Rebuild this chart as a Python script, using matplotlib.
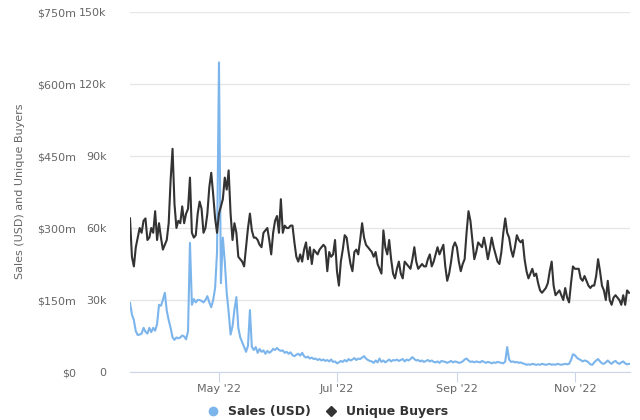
import numpy as np
import pandas as pd
from matplotlib import pyplot as plt
from matplotlib import dates as mdates
from matplotlib.lines import Line2D

# daily values (starts 16 Mar 2022)
start_date = '2022-03-16'

# unique buyers, thousands
buyers_k = [
    64, 48, 44, 52, 56, 60, 58, 63, 64, 55, 56, 60, 58, 67, 55, 62, 56, 51, 53, 55,
    62, 80, 93, 70, 60, 63, 62, 69, 62, 66, 68, 81, 58, 56, 57, 66, 71, 68, 58, 60,
    66, 77, 83, 74, 64, 58, 66, 69, 72, 81, 76, 84, 66, 55, 62, 58, 48, 47, 46, 44,
    52, 60, 66, 59, 56, 56, 55, 53, 52, 58, 59, 60, 55, 49, 58, 63, 65, 58, 72, 58,
    61, 60, 60, 61, 61, 54, 48, 46, 49, 46, 51, 54, 47, 52, 45, 51, 50, 49, 51, 52,
    53, 52, 42, 50, 48, 49, 55, 42, 36, 46, 51, 57, 56, 50, 45, 42, 50, 51, 49, 55,
    62, 56, 53, 52, 51, 50, 48, 50, 45, 43, 41, 59, 52, 49, 55, 47, 41, 39, 43, 46,
    41, 39, 46, 45, 44, 43, 47, 52, 46, 43, 44, 45, 44, 44, 47, 49, 44, 46, 49, 52,
    49, 51, 53, 44, 38, 41, 46, 52, 54, 52, 46, 42, 45, 47, 58, 67, 63, 55, 47, 50,
    54, 53, 52, 56, 52, 47, 51, 56, 52, 49, 46, 45, 50, 58, 64, 58, 56, 51, 48, 52,
    57, 55, 54, 55, 47, 42, 39, 41, 43, 40, 41, 37, 34, 33, 34, 35, 37, 42, 46, 36,
    32, 33, 34, 32, 30, 35, 31, 29, 37, 44, 43, 43, 43, 39, 38, 40, 38, 36, 35, 36,
    36, 40, 47, 42, 36, 34, 30, 38, 30, 28, 31, 32, 31, 30, 28, 32, 28, 34, 33,
]

# sales in USD, millions
sales_m = [
    144, 120, 108, 85, 77, 78, 80, 92, 84, 80, 92, 83, 92, 86, 100, 140, 138, 150, 165, 128,
    108, 92, 72, 67, 72, 70, 72, 76, 74, 68, 85, 269, 140, 152, 145, 150, 150, 148, 145, 150,
    158, 145, 135, 150, 175, 250, 645, 185, 280, 230, 165, 125, 78, 95, 130, 156, 92, 72, 62, 52,
    42, 55, 129, 52, 46, 52, 40, 48, 42, 45, 38, 44, 40, 43, 48, 46, 50, 46, 44, 45,
    40, 42, 38, 41, 35, 33, 36, 38, 34, 40, 33, 30, 32, 28, 30, 27, 28, 25, 27, 24,
    26, 23, 25, 22, 26, 21, 22, 18, 20, 23, 21, 25, 22, 27, 24, 26, 29, 25, 28, 27,
    30, 33, 28, 25, 23, 22, 19, 24, 20, 28, 21, 24, 20, 23, 26, 22, 25, 24, 26, 23,
    25, 27, 22, 26, 24, 27, 31, 27, 24, 25, 22, 24, 21, 23, 25, 22, 24, 21, 20, 22,
    19, 23, 22, 21, 19, 21, 23, 20, 22, 21, 19, 20, 22, 26, 28, 24, 21, 22, 20, 22,
    21, 20, 23, 21, 19, 21, 20, 18, 20, 19, 21, 20, 19, 18, 22, 52, 26, 21, 22, 20,
    21, 19, 20, 18, 17, 15, 16, 15, 17, 16, 15, 16, 15, 17, 16, 15, 16, 17, 15, 16,
    15, 17, 16, 15, 16, 17, 16, 17, 25, 37, 35, 30, 27, 25, 22, 24, 23, 20, 16, 15,
    20, 24, 27, 22, 18, 17, 20, 24, 20, 17, 21, 23, 19, 17, 20, 22, 18, 16, 17,
]

sales_ticks = [0, 150, 300, 450, 600, 750]
sales_labels = ['$0', '$150m', '$300m', '$450m', '$600m', '$750m']
buyer_ticks = [0, 30, 60, 90, 120, 150]
buyer_labels = ['0', '30k', '60k', '90k', '120k', '150k']
month_ticks = ['2022-05-01', '2022-07-01', '2022-09-01', '2022-11-01']

sales_color = '#7cb5ec'
buyers_color = '#333333'
label_color = '#666666'

days = pd.date_range(start_date, periods=len(buyers_k), freq='D')

fig = plt.figure(figsize=(6.4, 4.2), dpi=100)
ax = fig.add_axes([130 / 640, 48 / 420, 500 / 640, 360 / 420])
ax2 = ax.twinx()

# sales on the outer left axis, buyers on the inner one
ax.plot(days, sales_m, color=sales_color, lw=1.5, zorder=2)
ax2.plot(days, buyers_k, color=buyers_color, lw=1.5, zorder=3)

ax.set_ylim(0, 750)
ax2.set_ylim(0, 150)
ax.set_yticks(sales_ticks)
ax.set_yticklabels(sales_labels)
ax2.set_yticks(buyer_ticks)
ax2.set_yticklabels(buyer_labels)
ax2.yaxis.tick_left()
ax.tick_params(axis='y', length=0, pad=39, labelsize=8, labelcolor=label_color)
ax2.tick_params(axis='y', length=0, pad=17, labelsize=8, labelcolor=label_color)
ax.grid(axis='y', color='#e6e6e6', lw=1)

ax.set_xlim(days[0], days[-1] + pd.Timedelta(days=0.5))
ax.set_xticks(pd.to_datetime(month_ticks))
ax.xaxis.set_major_formatter(mdates.DateFormatter("%b '%y"))
ax.tick_params(axis='x', length=7, color='#ccd6eb', labelsize=8, labelcolor=label_color, pad=2)

for a in (ax, ax2):
    for s in ['top', 'right', 'left']:
        a.spines[s].set_visible(False)
ax2.spines['bottom'].set_visible(False)
ax.spines['bottom'].set_color('#ccd6eb')

fig.text(20 / 640, 0.545, 'Sales (USD) and Unique Buyers', rotation=90,
         ha='center', va='center', fontsize=8, color=label_color)

# legend at the bottom edge
handles = [
    Line2D([], [], color=sales_color, marker='o', ls='none', markersize=6, label='Sales (USD)'),
    Line2D([], [], color=buyers_color, marker='D', ls='none', markersize=5, label='Unique Buyers'),
]
fig.legend(handles=handles, loc='center', bbox_to_anchor=(0.51, 0.02), ncol=2, frameon=False,
           prop={'size': 9, 'weight': 'bold'}, labelcolor='#333333', handletextpad=0.6,
           columnspacing=1.0, handlelength=1.2, borderpad=0.1)

fig.savefig('out.png', dpi=100)
